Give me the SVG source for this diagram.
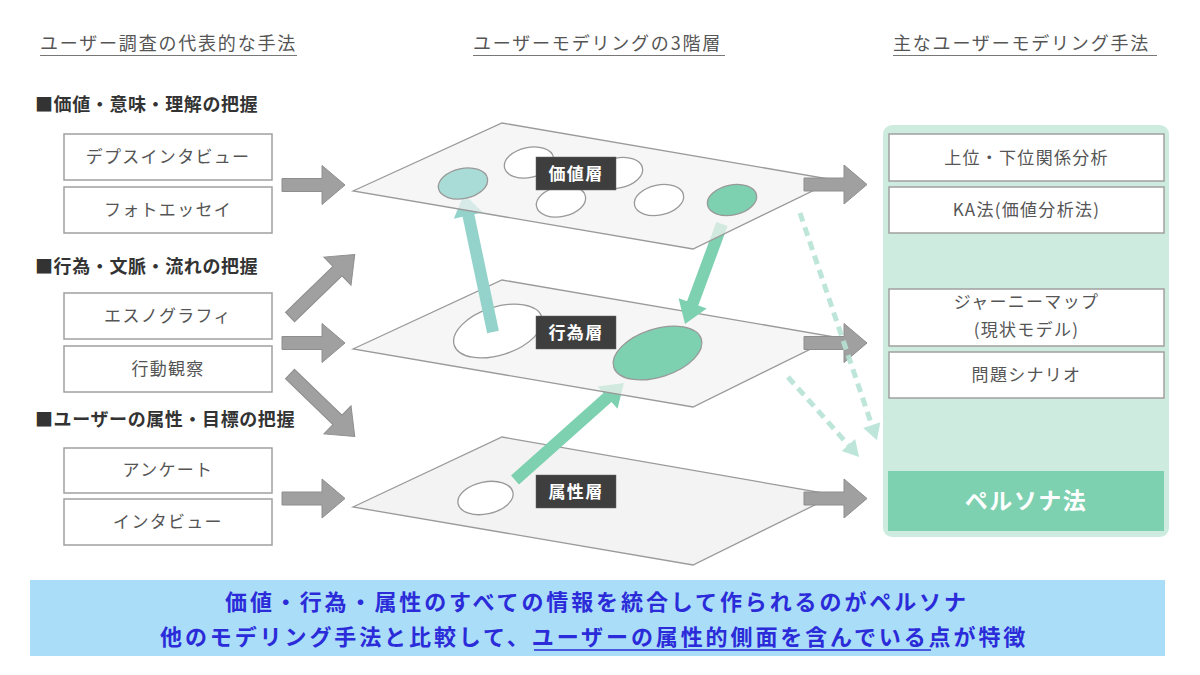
<svg xmlns="http://www.w3.org/2000/svg" width="1200" height="675" viewBox="0 0 1200 675">
<style>
text{font-family:"Noto Sans CJK JP","Noto Sans",sans-serif}
.hdr{font-size:18px;fill:#555;letter-spacing:1.8px}
.hl{stroke:#777;stroke-width:1}
.sec{font-size:18px;font-weight:bold;fill:#333;letter-spacing:0.6px}
.box{fill:#fff;stroke:#a0a0a0;stroke-width:1.5}
.bt{font-size:17px;fill:#555;letter-spacing:1.3px;text-anchor:middle}
.plane{fill:#f3f3f3;stroke:#9a9a9a;stroke-width:1.3}
.tp{fill-opacity:0.72}
.ew{fill:#fff;stroke:#999;stroke-width:1.3}
.eg{fill:#7dd1b0;stroke:#999;stroke-width:1.3}
.eb{fill:#a9dcd6;stroke:#999;stroke-width:1.3}
.lbl{fill:#3e3e3e;stroke:#666;stroke-width:0.5}
.lt{font-size:17px;font-weight:bold;fill:#fff;letter-spacing:1.3px;text-anchor:middle}
.ga{fill:#a0a0a0;stroke:#8e8e8e;stroke-width:1}
.dl{stroke:#b6e3d5;stroke-width:5;stroke-dasharray:9 6;fill:none}
.dh{fill:#b6e3d5}
.bn{font-size:22px;font-weight:bold;fill:#2b2bd9;letter-spacing:2.9px}
</style>
<defs>
<path id="gh" d="M0,-6.5 H40 V-19.5 L63,0 L40,19.5 V6.5 H0 Z"/>
<path id="gd" d="M0,-6.5 H66 V-19.5 L90,0 L66,19.5 V6.5 H0 Z"/>
</defs>
<rect width="1200" height="675" fill="#fff"/>

<g id="headers">
<text class="hdr" x="40" y="50">ユーザー調査の代表的な手法</text>
<line class="hl" x1="40" y1="55.5" x2="297" y2="55.5"/>
<text class="hdr" x="473" y="50">ユーザーモデリングの3階層</text>
<line class="hl" x1="473" y1="55.5" x2="725" y2="55.5"/>
<text class="hdr" x="893" y="50">主なユーザーモデリング手法</text>
<line class="hl" x1="893" y1="55.5" x2="1157" y2="55.5"/>
</g>

<g id="sections">
<text class="sec" x="35" y="111">■価値・意味・理解の把握</text>
<text class="sec" x="35" y="273">■行為・文脈・流れの把握</text>
<text class="sec" x="35" y="426">■ユーザーの属性・目標の把握</text>
</g>

<g id="left-methods">
<g id="m-depth"><rect class="box" x="64" y="134" width="208" height="46"/><text class="bt" x="168" y="163">デプスインタビュー</text></g>
<g id="m-photo"><rect class="box" x="64" y="187" width="208" height="46"/><text class="bt" x="168" y="216">フォトエッセイ</text></g>
<g id="m-ethno"><rect class="box" x="64" y="293" width="208" height="46"/><text class="bt" x="168" y="322">エスノグラフィ</text></g>
<g id="m-obs"><rect class="box" x="64" y="346" width="208" height="46"/><text class="bt" x="168" y="375">行動観察</text></g>
<g id="m-survey"><rect class="box" x="64" y="448" width="208" height="45"/><text class="bt" x="168" y="476">アンケート</text></g>
<g id="m-interview"><rect class="box" x="64" y="499" width="208" height="46"/><text class="bt" x="168" y="528">インタビュー</text></g>
</g>

<g id="layer-attr">
<polygon class="plane" points="353,507 502,437 835,495 693,565"/>
<ellipse class="ew" cx="485.5" cy="498" rx="28" ry="16" transform="rotate(-12 485.5 498)"/>
</g>

<g id="connector-attr-to-act">
<path fill="#7dd1b0" d="M0,-6 H123.9 V-15 L145.9,0 L123.9,15 V6 H0 Z" transform="translate(515,480) rotate(-41.7)"/>
</g>

<g id="layer-act">
<polygon class="plane tp" points="353,349 502,280 835,337 693,407"/>
<ellipse class="ew" cx="498" cy="331" rx="46" ry="24" transform="rotate(-18 498 331)"/>
<ellipse class="eg" cx="657.5" cy="353" rx="46" ry="24" transform="rotate(-18 657.5 353)"/>
</g>

<g id="connectors-inner">
<path fill="#94d3cb" d="M0,-6 H119 V-15 L141,0 L119,15 V6 H0 Z" transform="translate(493,332) rotate(-101.9)"/>
<path fill="#7dd1b0" d="M0,-6 H84.6 V-15 L106.6,0 L84.6,15 V6 H0 Z" transform="translate(722,224) rotate(110.3)"/>
</g>

<g id="layer-value">
<polygon class="plane tp" points="353,191 502,123 835,180 693,249"/>
<ellipse class="ew" cx="529" cy="162.5" rx="25" ry="15" transform="rotate(-12 529 162.5)"/>
<ellipse class="ew" cx="618" cy="173" rx="25" ry="15" transform="rotate(-12 618 173)"/>
<ellipse class="ew" cx="561" cy="201.5" rx="25" ry="15" transform="rotate(-12 561 201.5)"/>
<ellipse class="ew" cx="659" cy="200" rx="25" ry="15" transform="rotate(-12 659 200)"/>
<ellipse class="eb" cx="463" cy="183.5" rx="25" ry="15" transform="rotate(-12 463 183.5)"/>
<ellipse class="eg" cx="732" cy="200" rx="25" ry="15" transform="rotate(-12 732 200)"/>
</g>

<g id="layer-labels">
<g id="lbl-value"><rect class="lbl" x="536" y="157" width="80" height="33"/><text class="lt" x="576" y="180">価値層</text></g>
<g id="lbl-act"><rect class="lbl" x="536" y="316" width="80" height="33"/><text class="lt" x="576" y="339">行為層</text></g>
<g id="lbl-attr"><rect class="lbl" x="536" y="475" width="80" height="33"/><text class="lt" x="576" y="498">属性層</text></g>
</g>

<g id="right-panel">
<rect x="883" y="125" width="286" height="412" rx="9" fill="#cdebdf"/>
<g id="r-hier"><rect class="box" x="889" y="134" width="275" height="47"/><text class="bt" x="1026.5" y="164">上位・下位関係分析</text></g>
<g id="r-ka"><rect class="box" x="889" y="187" width="275" height="46"/><text class="bt" x="1026.5" y="216">KA法(価値分析法)</text></g>
<g id="r-journey"><rect class="box" x="889" y="289" width="275" height="57"/><text class="bt" x="1026.5" y="308">ジャーニーマップ</text><text class="bt" x="1026.5" y="336">(現状モデル)</text></g>
<g id="r-scenario"><rect class="box" x="889" y="352" width="275" height="46"/><text class="bt" x="1026.5" y="381">問題シナリオ</text></g>
<g id="r-persona"><rect x="888" y="471" width="276" height="60" fill="#7dd1b0"/><text x="1026" y="509" font-size="23" font-weight="bold" fill="#fff" letter-spacing="1.5" text-anchor="middle">ペルソナ法</text></g>
</g>

<g id="connectors">
<use href="#gh" class="ga" transform="translate(282,185)"/>
<use href="#gd" class="ga" transform="translate(290,317) rotate(-44)"/>
<use href="#gh" class="ga" transform="translate(282,343)"/>
<use href="#gd" class="ga" transform="translate(290,374) rotate(44)"/>
<use href="#gh" class="ga" transform="translate(282,498.5)"/>
<use href="#gh" class="ga" transform="translate(804,184.5)"/>
<use href="#gh" class="ga" transform="translate(804,343)"/>
<use href="#gh" class="ga" transform="translate(804,498.5)"/>
<g transform="translate(800,213) rotate(71.3)" opacity="0.9">
<line class="dl" x1="0" y1="0" x2="224" y2="0"/>
<polygon class="dh" points="224,-9 240,0 224,9"/>
</g>
<g transform="translate(788,377) rotate(48.4)" opacity="0.9">
<line class="dl" x1="0" y1="0" x2="91" y2="0"/>
<polygon class="dh" points="91,-9 107,0 91,9"/>
</g>
</g>

<g id="banner">
<rect x="30" y="580" width="1135" height="76" fill="#a9ddf8"/>
<text class="bn" x="225" y="610">価値・行為・属性のすべての情報を統合して作られるのがペルソナ</text>
<text class="bn" x="160" y="645">他のモデリング手法と比較して、ユーザーの属性的側面を含んでいる点が特徴</text>
<line x1="534" y1="650" x2="931" y2="650" stroke="#2b2bd9" stroke-width="1.5"/>
</g>
</svg>
